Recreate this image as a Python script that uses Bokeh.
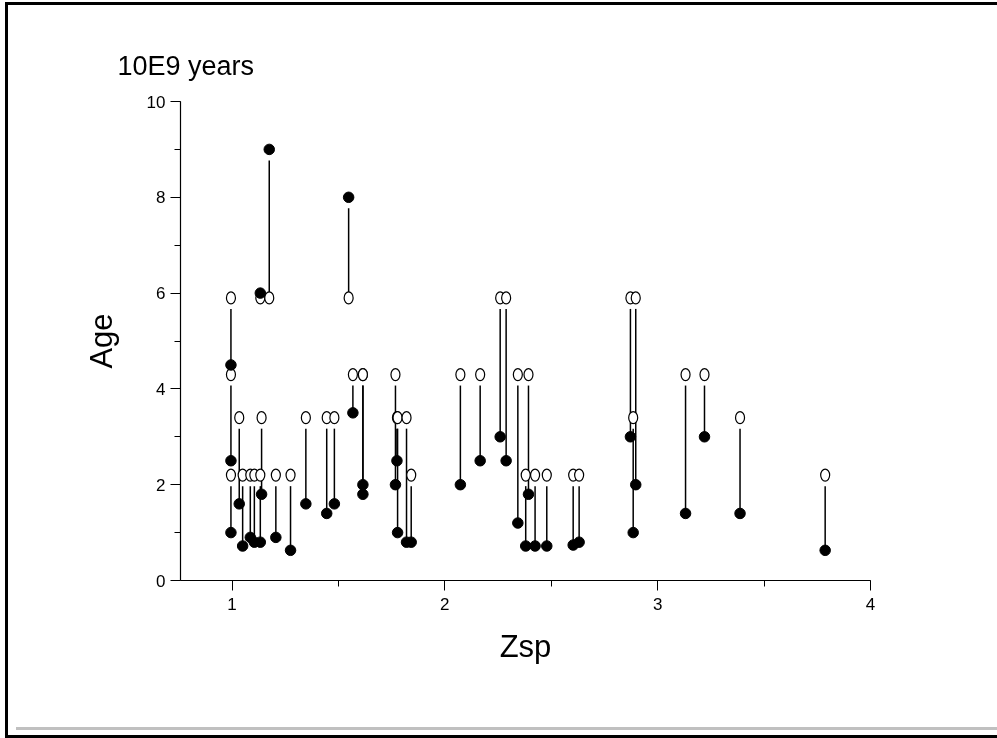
from bokeh.plotting import figure
from bokeh.models import Range1d, SingleIntervalTicker, Title, Spacer
from bokeh.layouts import column
from bokeh.embed import file_html
from bokeh.resources import INLINE

# ---- data ----
zsp = [0.995, 0.995, 0.995, 1.034, 1.050, 1.086, 1.105, 1.133, 1.139, 1.133,
       1.175, 1.206, 1.275, 1.347, 1.445, 1.481, 1.548, 1.568, 1.615, 1.615,
       1.768, 1.775, 1.778, 1.820, 1.842, 2.073, 2.166, 2.260, 2.288, 2.343,
       2.393, 2.380, 2.424, 2.479, 2.603, 2.631, 2.872, 2.897, 2.885, 3.131,
       3.220, 3.387, 3.787]
open_age = [5.9, 4.3, 2.2, 3.4, 2.2, 2.2, 2.2, 2.2, 3.4, 5.9,
            5.9, 2.2, 2.2, 3.4, 3.4, 3.4, 5.9, 4.3, 4.3, 4.3,
            4.3, 3.4, 3.4, 3.4, 2.2, 4.3, 4.3, 5.9, 5.9, 4.3,
            4.3, 2.2, 2.2, 2.2, 2.2, 2.2, 5.9, 5.9, 3.4, 4.3,
            4.3, 3.4, 2.2]
filled_age = [4.5, 2.5, 1.0, 1.6, 0.72, 0.9, 0.8, 0.8, 1.8, 6.0,
              9.0, 0.9, 0.63, 1.6, 1.4, 1.6, 8.0, 3.5, 2.0, 1.8,
              2.0, 2.5, 1.0, 0.8, 0.8, 2.0, 2.5, 3.0, 2.5, 1.2,
              1.8, 0.72, 0.72, 0.72, 0.74, 0.8, 3.0, 2.0, 1.0, 1.4,
              3.0, 1.4, 0.63]

title_text = "10E9 years"
x_label = "Zsp"
y_label = "Age"

FONT = "Liberation Sans"
GAP = 0.23  # gap left at the upper end of each drop line

# connecting lines: from the lower point up to just below the upper point
seg_x, seg_y0, seg_y1 = [], [], []
for x, o, f in zip(zsp, open_age, filled_age):
    top = max(o, f) - GAP
    bot = min(o, f)
    if top > bot:
        seg_x.append(x)
        seg_y0.append(bot)
        seg_y1.append(top)

p = figure(width=1000, height=716, output_backend="svg", toolbar_location=None,
           x_range=Range1d(0.758, 4.0), y_range=Range1d(0, 10),
           frame_width=690, frame_height=479,
           min_border_left=172, min_border_top=96, min_border_right=138,
           min_border_bottom=141)
p.background_fill_color = "white"
p.border_fill_color = "white"
p.outline_line_color = None
p.xgrid.visible = False
p.ygrid.visible = False

p.segment(x0=seg_x, y0=seg_y0, x1=seg_x, y1=seg_y1, line_color="black", line_width=1.5)
p.ellipse(x=zsp, y=open_age, width=9, height=12, width_units="screen",
          height_units="screen", fill_color="white", line_color="black", line_width=1.2)
p.scatter(x=zsp, y=filled_age, size=10.5, marker="circle", fill_color="black", line_color="black")

p.xaxis.ticker = SingleIntervalTicker(interval=1, num_minor_ticks=2)
p.yaxis.ticker = SingleIntervalTicker(interval=2, num_minor_ticks=2)
for ax in (p.xaxis, p.yaxis):
    ax.major_tick_in = 0
    ax.major_tick_out = 10
    ax.minor_tick_in = 0
    ax.minor_tick_out = 6
    ax.axis_line_color = "black"
    ax.major_tick_line_color = "black"
    ax.minor_tick_line_color = "black"
    ax.axis_line_width = 1.2
    ax.major_label_text_font = FONT
    ax.major_label_text_font_size = "17px"
    ax.major_label_text_color = "black"
    ax.axis_label_text_font = FONT
    ax.axis_label_text_font_size = "31px"
    ax.axis_label_text_font_style = "normal"
    ax.axis_label_text_color = "black"
p.xaxis.axis_label = x_label
p.yaxis.axis_label = y_label
p.xaxis.major_label_standoff = 7
p.yaxis.major_label_standoff = 5
p.xaxis.axis_label_standoff = 16
p.yaxis.axis_label_standoff = 25

p.add_layout(Title(text=title_text, align="left", offset=-63, standoff=41,
                   text_font=FONT, text_font_size="27px", text_font_style="normal",
                   text_color="black"), "above")

pad = Spacer(width=1000, height=6)
gray = Spacer(width=992, height=3, styles={"background-color": "#c0c0c0", "margin-left": "8px"})
gap = Spacer(width=1000, height=5)

layout = column(p, pad, gray, gap, spacing=0,
                styles={"border-style": "solid none solid solid", "border-width": "3px",
                        "border-color": "black", "position": "fixed",
                        "top": "2px", "left": "5px", "margin": "0px"})

open("out.html", "w").write(file_html(layout, INLINE))
